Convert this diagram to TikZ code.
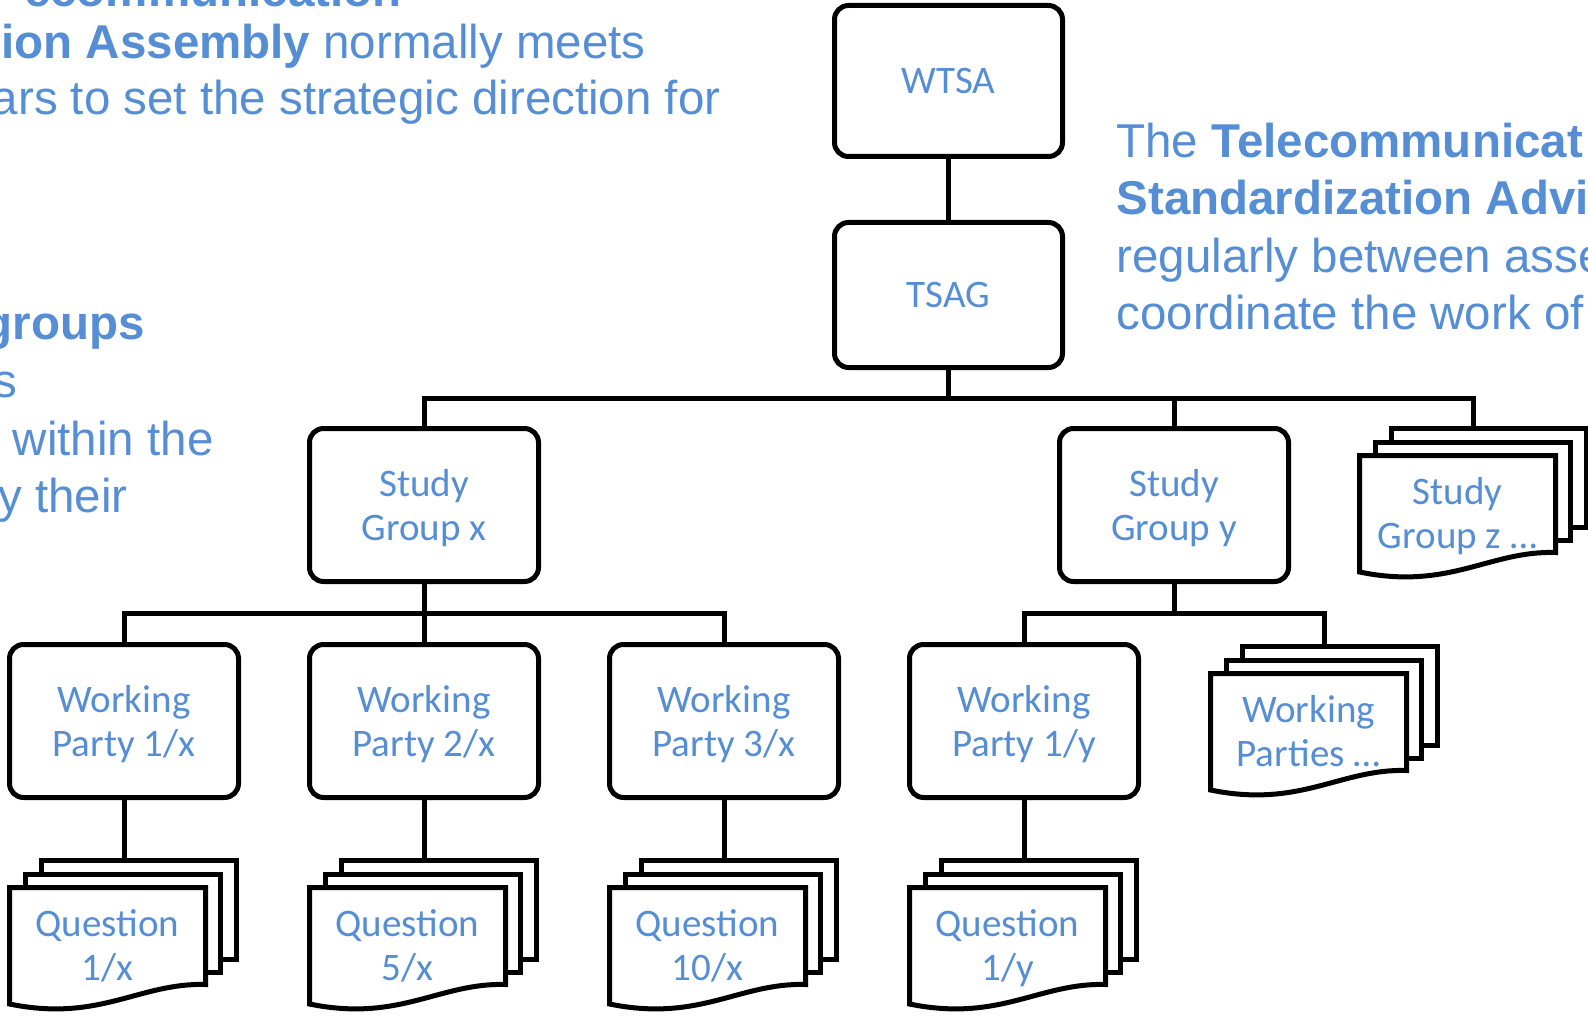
\documentclass[tikz,border=0pt]{standalone}
\usepackage{fontspec}
\setmainfont{Liberation Sans}
\newfontfamily\boxfont{Carlito}
\usetikzlibrary{calc}
\definecolor{itublue}{RGB}{85,142,213}

% two centred lines, set a little low as in the boxes
\newcommand{\twolines}[2]{\rule{0pt}{40pt}#1\\#2\strut}

% stack of three sheets, #2,#3 = top left of the front sheet
\newcommand{\multidoc}[4]{%
  \begin{scope}[shift={(#2,#3)}]
    \draw[sheet] (32,-27) rectangle (227,72);
    \draw[sheet] (16,-13) rectangle (211,85);
    \draw[sheet] (0,0) -- (196,0) -- (196,97) .. controls (130,95) and (90,135) .. (0,116.5) -- cycle;
    \coordinate (#1-top) at (114,-27);
    \node[boxtext] (#1) at (98,58) {#4};
  \end{scope}}

\begin{document}
\begin{tikzpicture}[x=1pt,y=-1pt,line width=5pt,
    boxtext/.style={inner sep=0pt,align=center,text=itublue,font=\boxfont\fontsize{39}{44}\selectfont},
    box/.style={boxtext,draw,fill=white,rounded corners=14pt,minimum width=229pt,minimum height=153pt},
    sheet/.style={draw,fill=white},
    side/.style={inner sep=0pt,text=itublue,font=\fontsize{47.5}{57}\selectfont}]
  \useasboundingbox (0,0) rectangle (1588,1016);
  \clip (0,0) rectangle (1588,1016);

  \node[side,anchor=base east] (wtsa1) at (404,7) {\textbf{ecommunication}};
  \node[side,anchor=base west] (wtsa2) at (-1,59) {\textbf{ion Assembly} normally meets};
  \node[side,anchor=base east] (wtsa3) at (723,115) {ars to set the strategic direction for};

  \node[side,anchor=base east] (sg1) at (147,340) {\textbf{groups}};
  \node[side,anchor=base east] (sg2) at (20,397) {s};
  \node[side,anchor=base east] (sg3) at (216,455) {within the};
  \node[side,anchor=base east] (sg4) at (130,512) {y their};

  \node[side,anchor=base west] (tsag1) at (1114,158) {The \textbf{Telecommunicat}};
  \node[side,anchor=base west] (tsag2) at (1114,215) {\textbf{Standardization Advi}};
  \node[side,anchor=base west] (tsag3) at (1114,273) {regularly between asse};
  \node[side,anchor=base west] (tsag4) at (1114,330) {coordinate the work of};

  \node[box,minimum width=228pt,minimum height=151pt] (wtsa) at (948.5,81) {WTSA};
  \node[box,minimum width=228pt,minimum height=145pt] (tsag) at (948.5,295) {TSAG};

  \node[box] (sgx) at (424,505) {\twolines{Study}{Group x}};
  \node[box] (sgy) at (1174,505) {\twolines{Study}{Group y}};
  \multidoc{sgz}{1359.5}{455.5}{\twolines{Study}{Group z …}}

  \node[box] (wp1x) at (124,721) {\twolines{Working}{Party 1/x}};
  \node[box] (wp2x) at (424,721) {\twolines{Working}{Party 2/x}};
  \node[box] (wp3x) at (724,721) {\twolines{Working}{Party 3/x}};
  \node[box] (wp1y) at (1024,721) {\twolines{Working}{Party 1/y}};
  \multidoc{wps}{1210.5}{673.5}{\twolines{Working}{Parties …}}

  \multidoc{q1x}{9.5}{887.5}{\twolines{Question}{1/x}}
  \multidoc{q5x}{309.5}{887.5}{\twolines{Question}{5/x}}
  \multidoc{q10x}{609.5}{887.5}{\twolines{Question}{10/x}}
  \multidoc{q1y}{909.5}{887.5}{\twolines{Question}{1/y}}

  \coordinate (bus) at (948.5,398.5);
  \coordinate (busx) at (424,613.5);
  \coordinate (busy) at (1174,613.5);

  \draw (wtsa) -- (tsag);
  \draw (tsag) -- (bus);
  \draw (sgx.north) |- (sgz-top |- bus) -- (sgz-top);
  \draw (sgy.north) -- (sgy.north |- bus);

  \draw (sgx) -- (busx);
  \draw (wp1x.north) |- (wp3x.north |- busx) -- (wp3x.north);
  \draw (wp2x.north) -- (wp2x.north |- busx);
  \draw (sgy) -- (busy);
  \draw (wp1y.north) |- (wps-top |- busy) -- (wps-top);

  \draw (wp1x.south) -- (wp1x.south |- q1x-top);
  \draw (wp2x.south) -- (wp2x.south |- q5x-top);
  \draw (wp3x.south) -- (wp3x.south |- q10x-top);
  \draw (wp1y.south) -- (wp1y.south |- q1y-top);
\end{tikzpicture}
\end{document}
